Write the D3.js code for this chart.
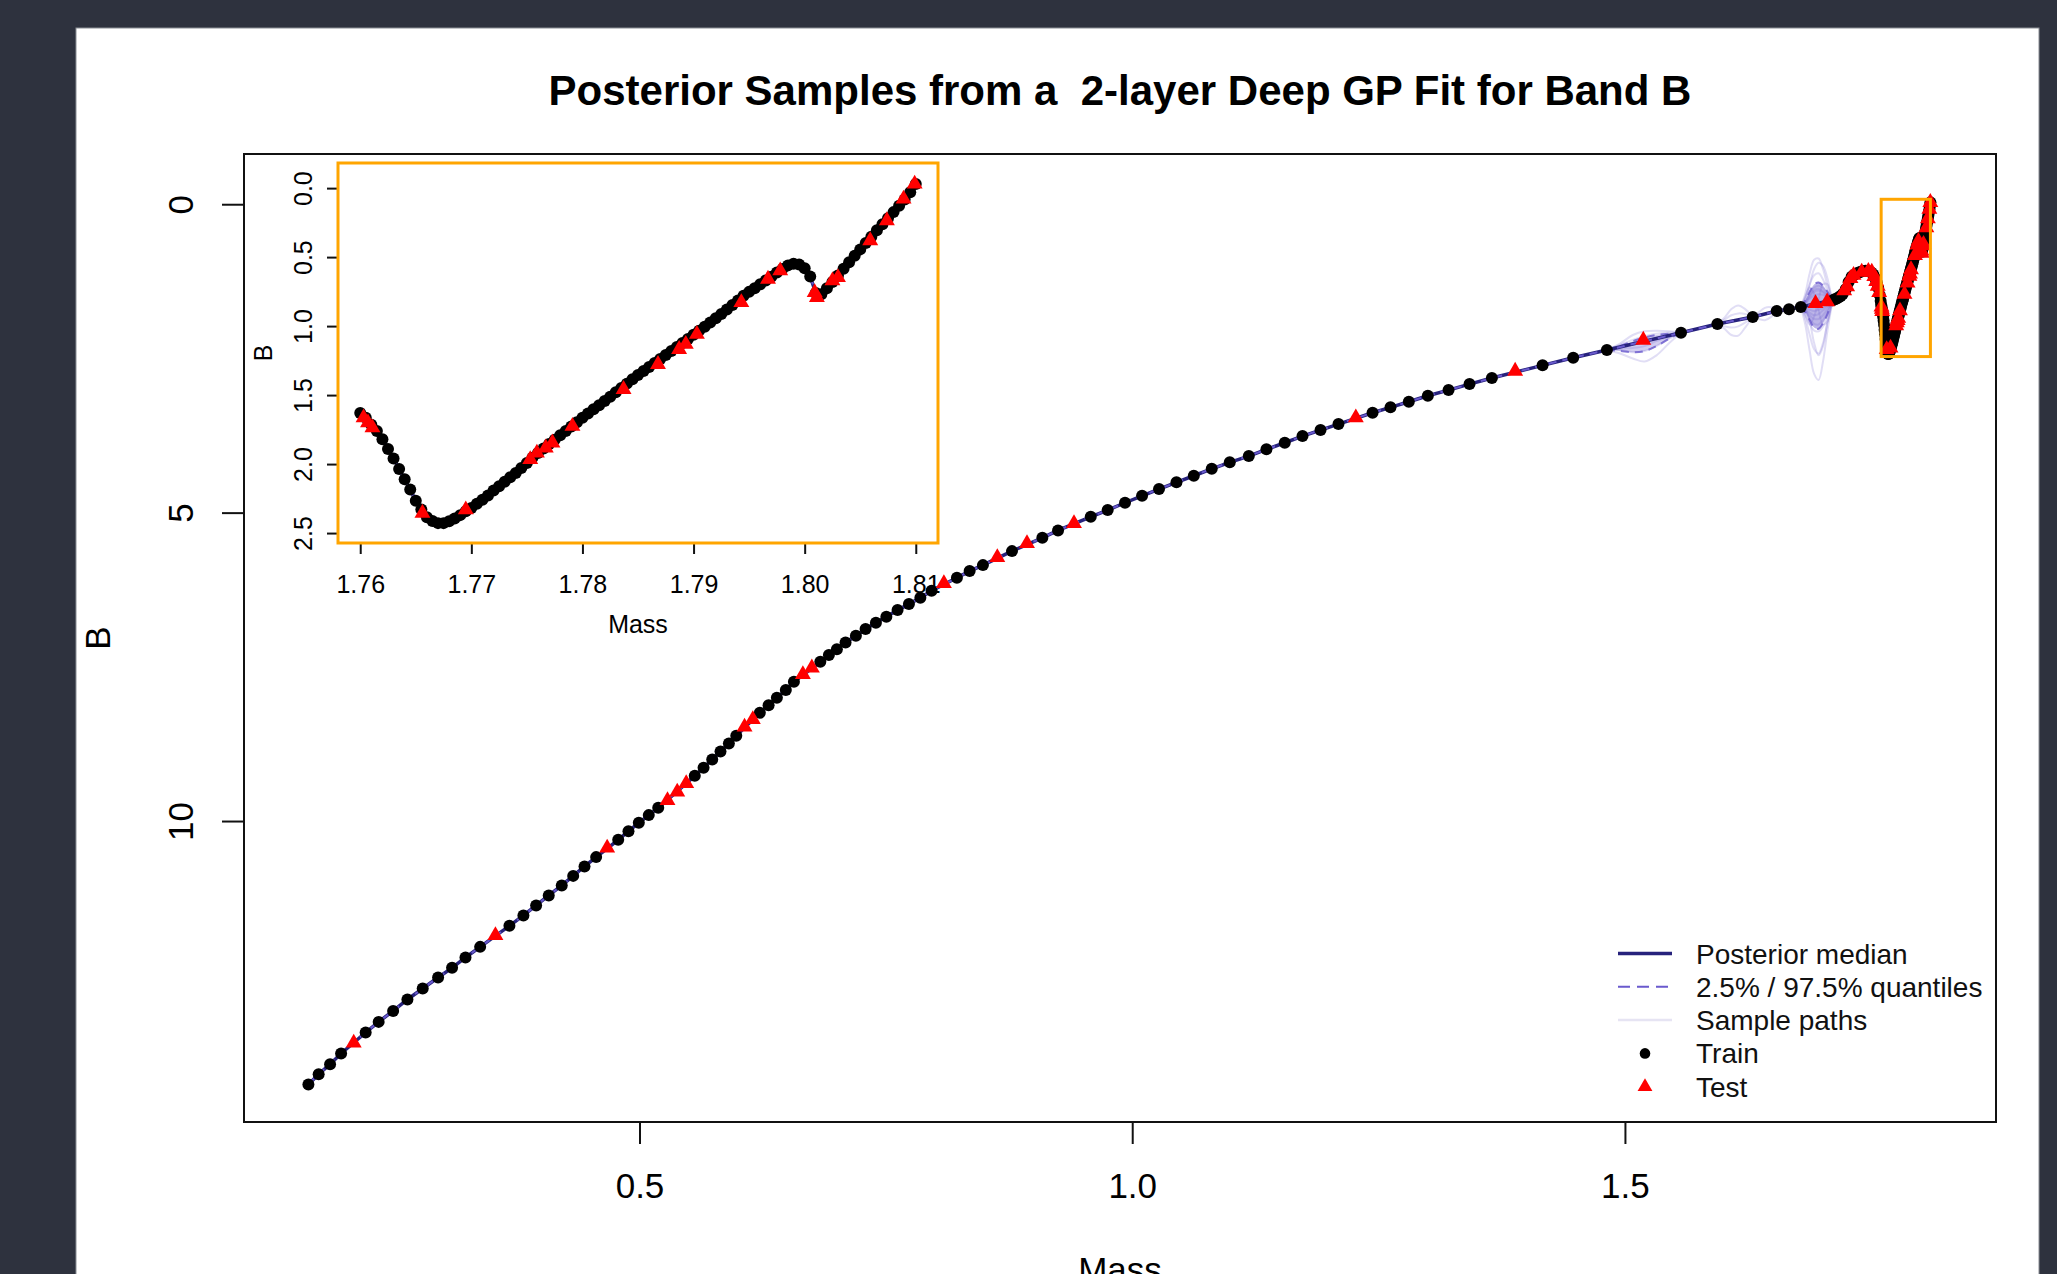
<!DOCTYPE html>
<html>
<head>
<meta charset="utf-8">
<script src="https://cdn.jsdelivr.net/npm/d3@7"></script>
<style>
  html, body { margin: 0; padding: 0; background: #2e323e; }
  svg { display: block; }
</style>
</head>
<body>
<div id="plotdiv"></div>
<script>
// ---- data ----
var titleText = "Posterior Samples from a  2-layer Deep GP Fit for Band B";
var xTicks = [0.5, 1.0, 1.5];
var yTicks = [0, 5, 10];
var insetXTicks = [1.76, 1.77, 1.78, 1.79, 1.80, 1.81];
var insetYTicks = [0.0, 0.5, 1.0, 1.5, 2.0, 2.5];
var massRange = [0.1645, 1.8107];
var bRange = [-0.233, 14.298];
var zoomMassRange = [1.76, 1.81];
var zoomBRange = [-0.08, 2.47];
var legendLabels = ["Posterior median", "2.5% / 97.5% quantiles", "Sample paths", "Train", "Test"];

// train points [mass, B] on the smooth part of the track
var trainPts = [
 [0.1640,14.271],[0.1744,14.104],[0.1860,13.942],[0.1972,13.768],[0.2221,13.428],[0.2353,13.256],
 [0.2500,13.078],[0.2645,12.893],[0.2800,12.715],[0.2956,12.536],[0.3098,12.380],[0.3234,12.212],
 [0.3383,12.040],[0.3680,11.699],[0.3822,11.531],[0.3951,11.369],[0.4079,11.206],[0.4211,11.044],
 [0.4327,10.889],[0.4442,10.736],[0.4560,10.585],[0.4784,10.305],[0.4888,10.164],[0.4993,10.029],
 [0.5094,9.904],[0.5190,9.786],[0.5561,9.267],[0.5650,9.137],[0.5738,9.001],[0.5822,8.871],
 [0.5907,8.742],[0.5982,8.618],[0.6221,8.246],[0.6310,8.121],[0.6394,8.002],[0.6485,7.877],
 [0.6567,7.743],[0.6835,7.419],[0.6922,7.310],[0.7003,7.213],[0.7091,7.104],[0.7196,6.997],
 [0.7294,6.888],[0.7399,6.786],[0.7505,6.689],[0.7619,6.580],[0.7734,6.483],[0.7850,6.381],
 [0.7964,6.267],[0.8221,6.056],[0.8350,5.948],[0.8485,5.851],[0.8780,5.624],[0.9088,5.408],
 [0.9247,5.288],[0.9579,5.067],[0.9751,4.959],[0.9927,4.840],[1.0100,4.727],[1.0272,4.618],
 [1.0449,4.509],[1.0625,4.402],[1.0807,4.289],[1.0990,4.185],[1.1183,4.083],[1.1362,3.974],
 [1.1548,3.867],[1.1728,3.759],[1.1911,3.661],[1.2093,3.564],[1.2439,3.381],[1.2621,3.293],
 [1.2807,3.203],[1.3000,3.105],[1.3210,3.013],[1.3423,2.916],[1.3650,2.818],[1.4164,2.612],
 [1.4475,2.489],[1.4817,2.364],[1.5569,2.084],[1.5938,1.943],[1.6297,1.829],[1.6540,1.732],
 [1.6665,1.704],[1.6785,1.665]
];

// train points on the hump before the zoomed window
var humpPts = [
 [1.7110,1.556],[1.7130,1.542],[1.7150,1.528],[1.7170,1.510],[1.7190,1.488],[1.7210,1.455],
 [1.7240,1.380],[1.7270,1.262],[1.7300,1.175],[1.7320,1.150],[1.7340,1.130],[1.7360,1.115],
 [1.7380,1.103],[1.7400,1.092],[1.7420,1.083],[1.7440,1.078],[1.7460,1.080],[1.7480,1.090],
 [1.7500,1.108],[1.7520,1.140],[1.7540,1.200],[1.7555,1.270],[1.7570,1.360],[1.7585,1.470],
 [1.7595,1.570]
];

// dense train points inside the zoomed window
var zoomPts = [
 [1.7600,1.630],[1.7605,1.665],[1.7610,1.715],[1.7615,1.760],[1.7620,1.820],[1.7625,1.890],
 [1.7630,1.960],[1.7635,2.035],[1.7640,2.110],[1.7645,2.185],[1.7650,2.265],[1.7655,2.330],
 [1.7660,2.385],[1.7665,2.412],[1.7670,2.428],[1.7675,2.428],[1.7680,2.415],[1.7685,2.395],
 [1.7690,2.370],[1.7695,2.342],[1.7700,2.318],[1.7705,2.288],[1.7710,2.258],[1.7715,2.228],
 [1.7720,2.192],[1.7725,2.160],[1.7730,2.128],[1.7735,2.096],[1.7740,2.064],[1.7745,2.028],
 [1.7750,1.992],[1.7755,1.955],[1.7760,1.919],[1.7765,1.887],[1.7770,1.855],[1.7775,1.823],
 [1.7780,1.791],[1.7785,1.760],[1.7790,1.728],[1.7795,1.697],[1.7800,1.665],[1.7805,1.634],
 [1.7810,1.603],[1.7815,1.573],[1.7820,1.543],[1.7825,1.512],[1.7830,1.480],[1.7835,1.448],
 [1.7840,1.417],[1.7845,1.386],[1.7850,1.355],[1.7855,1.326],[1.7860,1.297],[1.7865,1.268],
 [1.7870,1.239],[1.7875,1.210],[1.7880,1.181],[1.7885,1.152],[1.7890,1.123],[1.7895,1.093],
 [1.7900,1.063],[1.7905,1.034],[1.7910,1.004],[1.7915,0.974],[1.7920,0.944],[1.7925,0.912],
 [1.7930,0.880],[1.7935,0.847],[1.7940,0.814],[1.7945,0.780],[1.7950,0.752],[1.7955,0.725],
 [1.7960,0.697],[1.7965,0.669],[1.7970,0.642],[1.7975,0.612],[1.7980,0.586],[1.7985,0.560],
 [1.7990,0.548],[1.7995,0.553],[1.8000,0.580],[1.8005,0.640],[1.8010,0.760],[1.8015,0.770],
 [1.8020,0.725],[1.8025,0.680],[1.8030,0.633],[1.8035,0.585],[1.8040,0.538],[1.8045,0.491],
 [1.8050,0.444],[1.8055,0.398],[1.8060,0.352],[1.8065,0.306],[1.8070,0.262],[1.8075,0.218],
 [1.8080,0.174],[1.8085,0.128],[1.8090,0.082],[1.8095,0.030],[1.8100,-0.030]
];

// held-out test points
var testPts = [
 [0.2100,13.597],[0.3538,11.855],[0.4672,10.435],[0.5284,9.666],[0.5383,9.527],[0.5474,9.390],
 [0.6066,8.473],[0.6150,8.353],[0.6658,7.623],[0.6749,7.516],[0.8089,6.147],[0.8631,5.726],
 [0.8932,5.499],[0.9409,5.174],[1.2269,3.462],[1.3886,2.705],[1.5186,2.202],[1.6934,1.607],
 [1.7052,1.581],[1.7225,1.400],[1.7255,1.338],[1.7289,1.202],[1.7320,1.150],[1.7403,1.100],
 [1.7470,1.085],[1.7505,1.100],[1.7530,1.170],[1.7550,1.250],[1.7565,1.330],[1.7580,1.430],
 [1.7603,1.664],[1.7607,1.700],[1.7611,1.736],[1.7656,2.355],[1.7695,2.330],[1.7753,1.967],
 [1.7759,1.919],[1.7767,1.882],[1.7773,1.846],[1.7791,1.725],[1.7837,1.458],[1.7868,1.277],
 [1.7887,1.168],[1.7893,1.131],[1.7903,1.059],[1.7943,0.828],[1.7967,0.659],[1.7978,0.598],
 [1.8009,0.756],[1.8011,0.792],[1.8025,0.671],[1.8030,0.647],[1.8059,0.380],[1.8074,0.235],
 [1.8089,0.078],[1.8099,-0.031]
];

// sample paths where the posterior opens up between train points
var blobAMass = [1.6785, 1.6830, 1.6875, 1.6920, 1.6965, 1.7010, 1.7055, 1.7090, 1.7110];
var blobAPaths = [
 [1.665, 1.95, 2.38, 2.75, 2.85, 2.55, 2.05, 1.72, 1.556],
 [1.665, 1.45, 1.12, 0.90, 0.88, 1.05, 1.32, 1.48, 1.556],
 [1.665, 1.85, 2.12, 2.35, 2.42, 2.25, 1.92, 1.68, 1.556],
 [1.665, 1.52, 1.30, 1.15, 1.12, 1.22, 1.40, 1.51, 1.556],
 [1.665, 1.78, 1.93, 2.05, 2.06, 1.98, 1.80, 1.64, 1.556],
 [1.665, 1.58, 1.45, 1.35, 1.32, 1.36, 1.46, 1.53, 1.556],
 [1.665, 1.72, 1.80, 1.86, 1.86, 1.80, 1.70, 1.60, 1.556],
 [1.665, 1.62, 1.53, 1.48, 1.46, 1.47, 1.51, 1.55, 1.556],
 [1.665, 1.68, 1.71, 1.73, 1.71, 1.68, 1.63, 1.58, 1.556],
 [1.665, 1.80, 1.95, 1.82, 1.55, 1.30, 1.30, 1.47, 1.556],
 [1.665, 1.50, 1.35, 1.45, 1.72, 1.95, 1.90, 1.67, 1.556],
 [1.665, 1.70, 1.90, 2.25, 2.45, 2.30, 1.90, 1.65, 1.556],
 [1.665, 1.55, 1.30, 1.05, 0.95, 1.00, 1.20, 1.45, 1.556],
 [1.665, 1.66, 1.64, 1.60, 1.57, 1.58, 1.60, 1.58, 1.556],
 [1.665, 1.70, 1.76, 1.80, 1.78, 1.72, 1.66, 1.60, 1.556],
 [1.665, 1.61, 1.50, 1.42, 1.40, 1.43, 1.50, 1.54, 1.556],
 [1.665, 1.74, 1.85, 1.94, 1.95, 1.88, 1.75, 1.62, 1.556],
 [1.665, 1.59, 1.48, 1.39, 1.37, 1.41, 1.48, 1.53, 1.556]
];
var blobALo = [1.665, 1.56, 1.42, 1.30, 1.27, 1.32, 1.42, 1.52, 1.556];
var blobAHi = [1.665, 1.75, 1.88, 2.00, 2.02, 1.93, 1.78, 1.62, 1.556];

var blobBMass = [1.4817, 1.4950, 1.5080, 1.5200, 1.5320, 1.5450, 1.5569];
var blobBPaths = [
 [2.364, 2.42, 2.50, 2.55, 2.45, 2.25, 2.084],
 [2.364, 2.26, 2.12, 2.06, 2.05, 2.06, 2.084],
 [2.364, 2.36, 2.40, 2.38, 2.30, 2.18, 2.084],
 [2.364, 2.28, 2.20, 2.14, 2.10, 2.08, 2.084],
 [2.364, 2.34, 2.33, 2.30, 2.22, 2.15, 2.084]
];
var blobBLo = [2.364, 2.30, 2.22, 2.16, 2.12, 2.10, 2.084];
var blobBHi = [2.364, 2.38, 2.40, 2.38, 2.30, 2.18, 2.084];

var blobCMass = [1.5938, 1.6010, 1.6080, 1.6150, 1.6220, 1.6297];
var blobCPaths = [
 [1.943, 2.02, 2.12, 2.13, 2.00, 1.829],
 [1.943, 1.84, 1.70, 1.64, 1.70, 1.829],
 [1.943, 1.98, 2.00, 1.98, 1.92, 1.829],
 [1.943, 1.87, 1.80, 1.77, 1.78, 1.829]
];

var blobDMass = [1.6297, 1.6360, 1.6420, 1.6480, 1.6540];
var blobDPaths = [
 [1.829, 1.86, 1.88, 1.83, 1.732],
 [1.829, 1.75, 1.68, 1.67, 1.732]
];

// ---- drawing ----
var fontFam = '"Liberation Sans", Arial, Helvetica, sans-serif';
var medianCol = "#27227c";
var quantCol = "#6a5acd";
var orange = "#ffa500";
var dotR = 6;
var triSize = 110;

function pad(r) {
	var d = (r[1] - r[0]) * 0.04;
	return [r[0] - d, r[1] + d];
}

var svg = d3.select("#plotdiv").append("svg")
	.attr("width", 2057)
	.attr("height", 1274);

svg.append("rect")
	.attr("x", 76).attr("y", 28)
	.attr("width", 1963).attr("height", 1260)
	.attr("fill", "#fff")
	.attr("stroke", "#8a8d94")
	.attr("stroke-width", 1);

svg.append("text")
	.attr("x", 1120).attr("y", 105)
	.attr("text-anchor", "middle")
	.attr("font-family", fontFam)
	.attr("font-size", 42)
	.attr("font-weight", "bold")
	.style("white-space", "pre")
	.text(titleText);

var box = {left: 244, right: 1996, top: 154, bottom: 1122};
var x = d3.scaleLinear().domain(pad(massRange)).range([box.left, box.right]);
var y = d3.scaleLinear().domain(pad(bRange)).range([box.top, box.bottom]);

var defs = svg.append("defs");
defs.append("clipPath").attr("id", "clipMain").append("rect")
	.attr("x", box.left).attr("y", box.top)
	.attr("width", box.right - box.left).attr("height", box.bottom - box.top);

var allTrain = trainPts.concat(humpPts, zoomPts);

function drawCurves(g, xs, ys, pts, withSamples) {
	var line = d3.line().x(function(d){return xs(d[0]);}).y(function(d){return ys(d[1]);});
	var smooth = d3.line().curve(d3.curveCatmullRom)
		.x(function(d){return xs(d[0]);}).y(function(d){return ys(d[1]);});
	var band = d3.area().curve(d3.curveCatmullRom)
		.x(function(d){return xs(d[0]);})
		.y0(function(d){return ys(d[1]);})
		.y1(function(d){return ys(d[2]);});
	if (withSamples) {
		[[blobAMass, blobAPaths], [blobBMass, blobBPaths], [blobCMass, blobCPaths], [blobDMass, blobDPaths]]
		.forEach(function(s) {
			s[1].forEach(function(p) {
				g.append("path")
					.attr("d", smooth(p.map(function(b, i){return [s[0][i], b];})))
					.attr("fill", "none")
					.attr("stroke", quantCol)
					.attr("stroke-opacity", 0.2)
					.attr("stroke-width", 2);
			});
		});
		// dense core where most sample paths overlap
		[[blobAMass, blobALo, blobAHi, 0.45], [blobBMass, blobBLo, blobBHi, 0.3]].forEach(function(q) {
			g.append("path")
				.attr("d", band(q[0].map(function(m, i){return [m, q[1][i], q[2][i]];})))
				.attr("fill", quantCol)
				.attr("fill-opacity", q[3]);
			[q[1], q[2]].forEach(function(qq) {
				g.append("path")
					.attr("d", smooth(qq.map(function(b, i){return [q[0][i], b];})))
					.attr("fill", "none")
					.attr("stroke", quantCol)
					.attr("stroke-opacity", 0.8)
					.attr("stroke-width", 2)
					.attr("stroke-dasharray", "8,6");
			});
		});
	}
	g.append("path")
		.attr("d", line(pts))
		.attr("fill", "none")
		.attr("stroke", medianCol)
		.attr("stroke-width", 3.5);
	g.append("path")
		.attr("d", line(pts))
		.attr("fill", "none")
		.attr("stroke", quantCol)
		.attr("stroke-width", 2)
		.attr("stroke-dasharray", "8,6");
}

function drawPoints(g, xs, ys, train, test) {
	g.selectAll("circle.train")
		.data(train)
		.enter().append("circle")
		.attr("class", "train")
		.attr("cx", function(d){return xs(d[0]);})
		.attr("cy", function(d){return ys(d[1]);})
		.attr("r", dotR)
		.attr("fill", "#000");
	g.selectAll("path.test")
		.data(test)
		.enter().append("path")
		.attr("class", "test")
		.attr("d", d3.symbol().type(d3.symbolTriangle).size(triSize))
		.attr("transform", function(d){return "translate(" + xs(d[0]) + "," + ys(d[1]) + ")";})
		.attr("fill", "#ff0000");
}

var plot = svg.append("g").attr("clip-path", "url(#clipMain)");
drawCurves(plot, x, y, allTrain, true);
drawPoints(svg.append("g"), x, y, allTrain, testPts);

// frame and axes
svg.append("rect")
	.attr("x", box.left).attr("y", box.top)
	.attr("width", box.right - box.left).attr("height", box.bottom - box.top)
	.attr("fill", "none").attr("stroke", "#111").attr("stroke-width", 2);

var gx = svg.append("g")
	.attr("transform", "translate(0," + box.bottom + ")")
	.call(d3.axisBottom(x).tickValues(xTicks).tickSize(22).tickSizeOuter(0).tickFormat(d3.format(".1f")));
gx.select(".domain").remove();
gx.selectAll("line").attr("stroke", "#111").attr("stroke-width", 2);
gx.selectAll("text")
	.attr("y", 76).attr("dy", null)
	.attr("font-family", fontFam).attr("font-size", 35).attr("fill", "#000");

var gy = svg.append("g")
	.attr("transform", "translate(" + box.left + ",0)")
	.call(d3.axisLeft(y).tickValues(yTicks).tickSize(22).tickSizeOuter(0).tickFormat(d3.format("d")));
gy.select(".domain").remove();
gy.selectAll("line").attr("stroke", "#111").attr("stroke-width", 2);
gy.selectAll("text")
	.attr("x", 0).attr("dy", null)
	.attr("text-anchor", "middle")
	.attr("transform", "translate(-51,0) rotate(-90)")
	.attr("font-family", fontFam).attr("font-size", 35).attr("fill", "#000");

svg.append("text")
	.attr("transform", "translate(110,638) rotate(-90)")
	.attr("text-anchor", "middle")
	.attr("font-family", fontFam).attr("font-size", 35)
	.text("B");
// the x title sits partly below the picture's bottom edge, as in the reference
svg.append("text")
	.attr("x", (box.left + box.right) / 2).attr("y", 1282)
	.attr("text-anchor", "middle")
	.attr("font-family", fontFam).attr("font-size", 35)
	.text("Mass");

// orange marker of the zoomed window
svg.append("rect")
	.attr("x", x(zoomMassRange[0])).attr("y", y(zoomBRange[0]))
	.attr("width", x(zoomMassRange[1]) - x(zoomMassRange[0]))
	.attr("height", y(zoomBRange[1]) - y(zoomBRange[0]))
	.attr("fill", "none").attr("stroke", orange).attr("stroke-width", 3);

// ---- inset ----
var ib = {left: 338, right: 938, top: 163, bottom: 543};
var xi = d3.scaleLinear().domain(pad(zoomMassRange)).range([ib.left, ib.right]);
var yi = d3.scaleLinear().domain(pad(zoomBRange)).range([ib.top, ib.bottom]);

svg.append("rect")
	.attr("x", ib.left).attr("y", ib.top)
	.attr("width", ib.right - ib.left).attr("height", ib.bottom - ib.top)
	.attr("fill", "#fff");
defs.append("clipPath").attr("id", "clipInset").append("rect")
	.attr("x", ib.left).attr("y", ib.top)
	.attr("width", ib.right - ib.left).attr("height", ib.bottom - ib.top);

var insetTrain = allTrain.filter(function(d){return d[0] >= zoomMassRange[0] - 0.0001;});
var inset = svg.append("g").attr("clip-path", "url(#clipInset)");
drawCurves(inset, xi, yi, insetTrain, false);
drawPoints(inset, xi, yi, insetTrain,
	testPts.filter(function(d){return d[0] >= zoomMassRange[0];}));

var gxi = svg.append("g")
	.attr("transform", "translate(0," + ib.bottom + ")")
	.call(d3.axisBottom(xi).tickValues(insetXTicks).tickSize(11).tickSizeOuter(0).tickFormat(d3.format(".2f")));
gxi.select(".domain").remove();
gxi.selectAll("line").attr("stroke", "#111").attr("stroke-width", 2);
gxi.selectAll("text")
	.attr("y", 50).attr("dy", null)
	.attr("font-family", fontFam).attr("font-size", 25).attr("fill", "#000");

var gyi = svg.append("g")
	.attr("transform", "translate(" + ib.left + ",0)")
	.call(d3.axisLeft(yi).tickValues(insetYTicks).tickSize(11).tickSizeOuter(0).tickFormat(d3.format(".1f")));
gyi.select(".domain").remove();
gyi.selectAll("line").attr("stroke", "#111").attr("stroke-width", 2);
gyi.selectAll("text")
	.attr("x", 0).attr("dy", null)
	.attr("text-anchor", "middle")
	.attr("transform", "translate(-26,0) rotate(-90)")
	.attr("font-family", fontFam).attr("font-size", 25).attr("fill", "#000");

svg.append("text")
	.attr("x", (ib.left + ib.right) / 2).attr("y", 633)
	.attr("text-anchor", "middle")
	.attr("font-family", fontFam).attr("font-size", 25)
	.text("Mass");
svg.append("text")
	.attr("transform", "translate(272," + (ib.top + ib.bottom) / 2 + ") rotate(-90)")
	.attr("text-anchor", "middle")
	.attr("font-family", fontFam).attr("font-size", 25)
	.text("B");

svg.append("rect")
	.attr("x", ib.left).attr("y", ib.top)
	.attr("width", ib.right - ib.left).attr("height", ib.bottom - ib.top)
	.attr("fill", "none").attr("stroke", orange).attr("stroke-width", 3);

// ---- legend ----
var lg = svg.append("g").attr("transform", "translate(1618,953.5)");
legendLabels.forEach(function(lab, i) {
	var yy = i * 33.3;
	if (i == 0) {
		lg.append("line").attr("x1", 0).attr("x2", 54).attr("y1", yy).attr("y2", yy)
			.attr("stroke", medianCol).attr("stroke-width", 3.5);
	} else if (i == 1) {
		lg.append("line").attr("x1", 0).attr("x2", 54).attr("y1", yy).attr("y2", yy)
			.attr("stroke", quantCol).attr("stroke-width", 2).attr("stroke-dasharray", "12,7");
	} else if (i == 2) {
		lg.append("line").attr("x1", 0).attr("x2", 54).attr("y1", yy).attr("y2", yy)
			.attr("stroke", "#e6e4f3").attr("stroke-width", 2.5);
	} else if (i == 3) {
		lg.append("circle").attr("cx", 27).attr("cy", yy).attr("r", 5.3).attr("fill", "#000");
	} else {
		lg.append("path")
			.attr("d", d3.symbol().type(d3.symbolTriangle).size(95))
			.attr("transform", "translate(27," + yy + ")")
			.attr("fill", "#ff0000");
	}
	lg.append("text")
		.attr("x", 78).attr("y", yy + 10)
		.attr("font-family", fontFam).attr("font-size", 28)
		.attr("fill", "#111")
		.text(lab);
});
</script>
</body>
</html>
